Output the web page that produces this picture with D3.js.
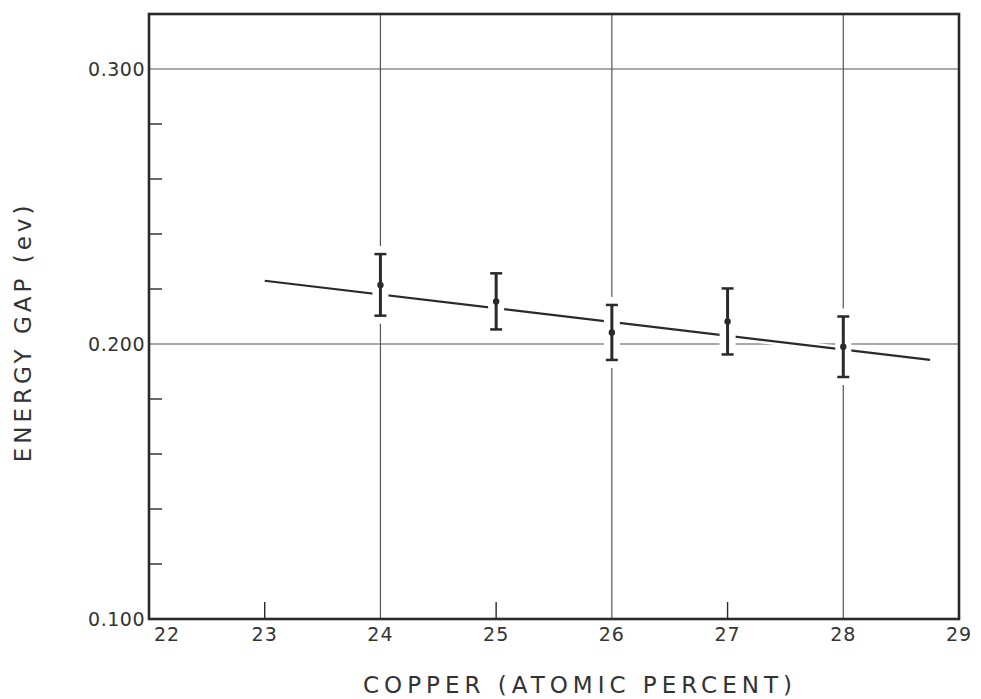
<!DOCTYPE html>
<html lang="en">
<head>
    <meta charset="UTF-8">
    <title>Energy gap vs copper</title>
    <script src="https://d3js.org/d3.v7.min.js"></script>
    <style>
        body { margin: 0; background: #fff; }
        text { font-family: "DejaVu Sans", sans-serif; fill: #333; }
    </style>
</head>
<body>
    <div id="chart"></div>

    <script>
        // Measured points (copper %, energy gap, error half-width)
        const copper = [24, 25, 26, 27, 28];
        const gap = [0.2215, 0.2155, 0.2042, 0.2082, 0.1990];
        const err = [0.0112, 0.0102, 0.0100, 0.0120, 0.0110];

        // Straight-line fit drawn through the points
        const fitX = [23, 28.75];
        const fitY = [0.2230, 0.1942];

        const xTicks = [22, 23, 24, 25, 26, 27, 28, 29];
        const xGrid = [24, 26, 28];
        const yLabels = [0.100, 0.200, 0.300];
        const yMinor = [0.12, 0.14, 0.16, 0.18, 0.22, 0.24, 0.26, 0.28];

        const W = 981, H = 699;
        const margin = { top: 14, right: 22, bottom: 80, left: 149 };

        const svg = d3.select("#chart")
            .append("svg")
            .attr("width", W)
            .attr("height", H);

        const x = d3.scaleLinear()
            .domain([22, 29])
            .range([margin.left, W - margin.right]);

        const y = d3.scaleLinear()
            .domain([0.1, 0.32])
            .range([H - margin.bottom, margin.top]);

        const ink = "#2a2a2a";

        // grid lines
        svg.append("g")
            .selectAll("line")
            .data(xGrid)
            .join("line")
            .attr("x1", d => x(d)).attr("x2", d => x(d))
            .attr("y1", y(0.32)).attr("y2", y(0.1))
            .attr("stroke", "#555")
            .attr("stroke-width", 1.2);

        svg.append("g")
            .selectAll("line")
            .data([0.2, 0.3])
            .join("line")
            .attr("x1", x(22)).attr("x2", x(29))
            .attr("y1", d => y(d)).attr("y2", d => y(d))
            .attr("stroke", "#555")
            .attr("stroke-width", 1.2);

        // minor ticks (inward)
        svg.append("g")
            .selectAll("line")
            .data(yMinor)
            .join("line")
            .attr("x1", x(22)).attr("x2", x(22) + 13)
            .attr("y1", d => y(d)).attr("y2", d => y(d))
            .attr("stroke", ink)
            .attr("stroke-width", 1.4);

        svg.append("g")
            .selectAll("line")
            .data([23, 25, 27])
            .join("line")
            .attr("x1", d => x(d)).attr("x2", d => x(d))
            .attr("y1", y(0.1)).attr("y2", y(0.1) - 17)
            .attr("stroke", ink)
            .attr("stroke-width", 1.4);

        // fit line with white halo to break the grid
        const fitLine = d3.line().x(d => x(d[0])).y(d => y(d[1]));
        const fitData = d3.zip(fitX, fitY);
        svg.append("path")
            .attr("d", fitLine(fitData))
            .attr("stroke", "#fff")
            .attr("stroke-width", 7)
            .attr("fill", "none");
        svg.append("path")
            .attr("d", fitLine(fitData))
            .attr("stroke", ink)
            .attr("stroke-width", 2.2)
            .attr("fill", "none");

        // error bars
        const pts = copper.map((c, i) => ({ c, v: gap[i], e: err[i] }));
        const bars = svg.append("g");

        bars.selectAll("rect.halo")
            .data(pts)
            .join("rect")
            .attr("class", "halo")
            .attr("x", d => x(d.c) - 8)
            .attr("width", 16)
            .attr("y", d => y(d.v + d.e) - 8)
            .attr("height", d => y(d.v - d.e) - y(d.v + d.e) + 16)
            .attr("fill", "#fff");

        bars.selectAll("line.stem")
            .data(pts)
            .join("line")
            .attr("class", "stem")
            .attr("x1", d => x(d.c)).attr("x2", d => x(d.c))
            .attr("y1", d => y(d.v + d.e)).attr("y2", d => y(d.v - d.e))
            .attr("stroke", ink)
            .attr("stroke-width", 3);

        bars.selectAll("line.capT")
            .data(pts)
            .join("line")
            .attr("class", "capT")
            .attr("x1", d => x(d.c) - 6).attr("x2", d => x(d.c) + 6)
            .attr("y1", d => y(d.v + d.e)).attr("y2", d => y(d.v + d.e))
            .attr("stroke", ink)
            .attr("stroke-width", 2.5);

        bars.selectAll("line.capB")
            .data(pts)
            .join("line")
            .attr("class", "capB")
            .attr("x1", d => x(d.c) - 6).attr("x2", d => x(d.c) + 6)
            .attr("y1", d => y(d.v - d.e)).attr("y2", d => y(d.v - d.e))
            .attr("stroke", ink)
            .attr("stroke-width", 2.5);

        bars.selectAll("circle")
            .data(pts)
            .join("circle")
            .attr("cx", d => x(d.c))
            .attr("cy", d => y(d.v))
            .attr("r", 3.2)
            .attr("fill", ink);

        // frame
        svg.append("rect")
            .attr("x", x(22)).attr("y", y(0.32))
            .attr("width", x(29) - x(22))
            .attr("height", y(0.1) - y(0.32))
            .attr("fill", "none")
            .attr("stroke", ink)
            .attr("stroke-width", 2.6);

        // tick labels
        svg.append("g")
            .selectAll("text")
            .data(yLabels)
            .join("text")
            .attr("x", x(22) - 4)
            .attr("y", d => y(d) + 7)
            .attr("text-anchor", "end")
            .attr("font-size", 19)
            .attr("letter-spacing", 0.5)
            .text(d => d3.format(".3f")(d));

        svg.append("g")
            .selectAll("text")
            .data(xTicks)
            .join("text")
            .attr("x", d => x(d) + (d === 22 ? 18 : 0))
            .attr("y", y(0.1) + 22)
            .attr("text-anchor", "middle")
            .attr("font-size", 19)
            .attr("letter-spacing", 1)
            .text(d => d);

        // axis titles
        svg.append("text")
            .attr("x", 580)
            .attr("y", 693)
            .attr("text-anchor", "middle")
            .attr("font-size", 23)
            .attr("letter-spacing", 5)
            .text("COPPER (ATOMIC PERCENT)");

        svg.append("text")
            .attr("transform", `translate(31,332) rotate(-90)`)
            .attr("text-anchor", "middle")
            .attr("font-size", 23)
            .attr("letter-spacing", 4)
            .text("ENERGY GAP (ev)");
    </script>
</body>
</html>
